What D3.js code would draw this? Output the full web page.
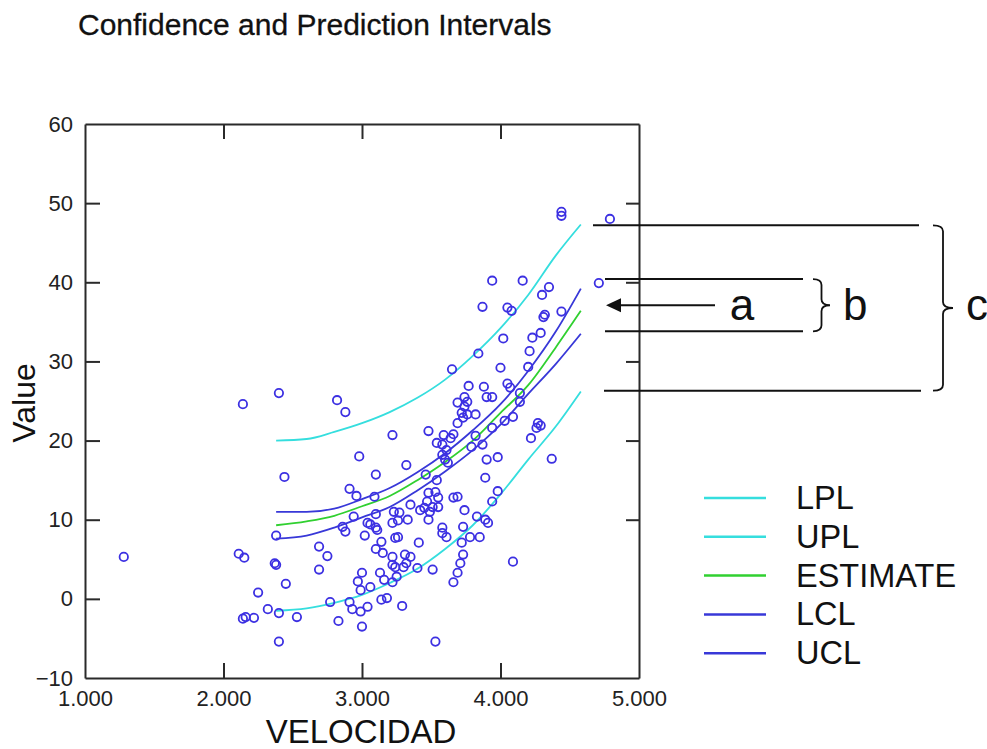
<!DOCTYPE html>
<html>
<head>
<meta charset="utf-8">
<script src="https://cdn.jsdelivr.net/npm/d3@7"></script>
<style>
  body { margin: 0; background: #fff; }
  svg { display: block; font-family: "Liberation Sans", Arial, sans-serif; }
</style>
</head>
<body>
<svg width="987" height="749"></svg>
<script>
// Observed data (VELOCIDAD, Value)
const velocidad = [1.28,2.11,2.15,2.14,2.14,2.16,2.22,2.25,2.32,2.40,2.40,2.37,2.38,2.38,2.44,2.45,2.40,2.53,2.69,2.75,2.69,2.77,2.82,2.88,2.83,2.86,2.88,2.91,2.96,2.94,2.98,2.91,2.93,2.99,3.00,3.00,2.97,2.99,3.06,3.02,3.04,3.04,3.10,3.09,3.10,3.11,3.14,3.10,3.15,3.13,3.16,3.14,3.18,3.22,3.23,3.22,3.24,3.22,3.22,3.25,3.22,3.26,3.26,3.33,3.35,3.29,3.31,3.35,3.32,3.30,3.24,3.40,3.41,3.51,3.53,3.32,3.27,3.42,3.48,3.53,3.55,3.47,3.51,3.45,3.55,3.49,3.48,3.46,3.54,3.48,3.59,3.66,3.64,3.54,3.58,3.61,3.58,3.60,3.62,3.66,3.69,3.74,3.58,3.61,3.58,3.73,3.72,3.78,3.85,3.73,3.71,3.69,3.66,3.83,3.89,3.91,3.65,4.00,4.20,3.77,3.88,4.05,4.07,3.90,3.94,3.69,3.74,3.76,3.74,4.14,4.14,3.72,3.76,3.73,3.82,3.69,4.03,4.09,4.27,4.29,4.26,3.94,4.22,3.82,3.87,3.79,3.90,3.98,4.37,3.89,3.98,3.94,4.09,4.44,4.44,4.79,4.71,3.94,4.16,4.35,4.30,3.87,4.05,4.08,4.44,4.32,4.31,4.29,4.23,4.02,4.21,3.84,3.06,3.10];
const value = [5.3,5.7,5.2,24.6,-2.5,-2.3,-2.4,0.8,-1.3,-1.8,-5.4,4.5,4.3,8.0,15.4,1.9,26.0,-2.3,6.6,5.4,3.7,-0.4,25.1,23.6,-2.8,9.1,8.5,13.9,13.0,10.4,18.0,-0.4,-1.3,-1.6,-3.5,3.3,2.2,1.1,1.5,8.0,9.6,-1.0,15.7,12.9,10.7,8.7,7.2,6.3,5.8,3.3,2.4,-0.1,0.1,20.7,11.0,9.6,7.7,5.3,4.3,2.8,2.1,7.8,9.9,10.0,11.9,-0.9,5.6,5.3,4.5,4.0,4.0,3.9,7.1,3.7,-5.4,16.9,10.9,11.2,13.4,13.5,12.8,12.3,11.6,11.5,11.6,11.0,10.0,15.7,15.0,21.2,20.7,20.8,20.3,19.7,19.5,18.8,18.2,17.6,17.2,12.8,12.9,11.2,8.3,7.8,9.0,9.1,7.1,7.8,7.8,5.6,4.5,3.3,2.1,10.4,10.0,9.6,29.0,29.2,29.3,26.9,26.8,27.2,26.7,25.5,25.5,24.8,25.5,24.9,24.3,26.0,24.9,23.5,23.3,22.9,23.3,22.2,22.5,23.0,22.2,21.9,21.6,21.6,20.3,20.6,19.5,19.2,17.6,17.9,17.7,15.3,13.6,12.3,4.7,48.9,48.4,48.0,39.9,40.2,40.2,39.4,38.4,36.9,36.8,36.4,36.3,35.9,35.6,33.6,33.0,32.9,31.3,31.0,9.4,9.0];

// Fitted curves, read at these x positions
const curveX   = [2.38, 2.6, 2.8, 3.0, 3.2, 3.4, 3.6, 3.8, 4.0, 4.2, 4.4, 4.58];
const lpl      = [-1.5, -1.2, -0.5, 0.5, 2.0, 3.8, 6.3, 9.3, 13.2, 17.6, 21.8, 26.2];
const upl      = [20.0, 20.2, 21.1, 22.2, 23.6, 25.4, 27.7, 30.7, 34.2, 38.4, 43.4, 47.3];
const estimate = [9.3, 9.8, 10.5, 11.7, 13.0, 15.0, 17.3, 20.0, 23.5, 27.0, 31.8, 36.4];
const lcl      = [7.6, 8.0, 9.0, 10.3, 11.6, 13.7, 16.1, 18.8, 22.0, 25.9, 29.7, 33.5];
const ucl      = [11.0, 11.0, 11.4, 12.6, 14.0, 16.0, 18.4, 21.3, 24.6, 28.8, 33.8, 39.2];

const seriesNames = ["LPL", "UPL", "ESTIMATE", "LCL", "UCL"];
const seriesValues = [lpl, upl, estimate, lcl, ucl];
const seriesColors = ["#35dede", "#35dede", "#30d030", "#3838d8", "#3838d8"];

const xTicks = [1, 2, 3, 4, 5];
const yTicks = [-10, 0, 10, 20, 30, 40, 50, 60];

// Annotation levels (in Value units) for the interval brackets
const cTop = 47.2, bTop = 40.4, arrowY = 37.1, bBottom = 33.8, cBottom = 26.3;

const svg = d3.select("svg");
const x = d3.scaleLinear().domain([1, 5]).range([85, 639]);
const y = d3.scaleLinear().domain([-10, 60]).range([678, 124]);
const axisColor = "#2a2a2a";

// Title
svg.append("text")
  .attr("x", 78).attr("y", 35)
  .attr("font-size", 30)
  .attr("fill", "#111")
  .attr("stroke", "#111").attr("stroke-width", 0.3)
  .text("Confidence and Prediction Intervals");

// Axes (ticks point inward, like the original frame)
function styleAxis(g) {
  g.selectAll("path, line").attr("stroke", axisColor).attr("stroke-width", 2);
  g.selectAll("text").attr("fill", "#222").attr("font-size", 22)
    .attr("font-family", "Liberation Sans, Arial, sans-serif");
}

svg.append("g")
  .attr("transform", "translate(0,678)")
  .call(d3.axisBottom(x).tickValues(xTicks).tickFormat(d3.format(".3f"))
    .tickSizeInner(-15).tickSizeOuter(0).tickPadding(12))
  .call(styleAxis)
  .call(g => g.selectAll(".tick line").filter(d => d === 1 || d === 5).remove());

svg.append("g")
  .attr("transform", "translate(0,124)")
  .call(d3.axisTop(x).tickValues([2, 3, 4]).tickFormat("")
    .tickSizeInner(-15).tickSizeOuter(0))
  .call(styleAxis);

svg.append("g")
  .attr("transform", "translate(85,0)")
  .call(d3.axisLeft(y).tickValues(yTicks).tickSizeInner(-15).tickSizeOuter(0).tickPadding(12))
  .call(styleAxis)
  .call(g => g.selectAll(".tick line").filter(d => d === -10 || d === 60).remove());

svg.append("g")
  .attr("transform", "translate(639,0)")
  .call(d3.axisRight(y).tickValues([10, 20, 30, 40, 50]).tickFormat("")
    .tickSizeInner(-13).tickSizeOuter(0))
  .call(styleAxis);

// Axis titles
svg.append("text")
  .attr("x", 361).attr("y", 743)
  .attr("text-anchor", "middle")
  .attr("font-size", 33)
  .attr("fill", "#111")
  .text("VELOCIDAD");

svg.append("text")
  .attr("transform", "translate(35,403) rotate(-90)")
  .attr("text-anchor", "middle")
  .attr("font-size", 32)
  .attr("fill", "#111")
  .text("Value");

// Curves
const line = d3.line()
  .x((d, i) => x(curveX[i]))
  .y(d => y(d))
  .curve(d3.curveMonotoneX);

svg.append("g")
  .selectAll("path")
  .data(seriesValues)
  .enter()
  .append("path")
  .attr("d", line)
  .attr("fill", "none")
  .attr("stroke", (d, i) => seriesColors[i])
  .attr("stroke-width", 1.8);

// Points
svg.append("g")
  .selectAll("circle")
  .data(velocidad)
  .enter()
  .append("circle")
  .attr("cx", d => x(d))
  .attr("cy", (d, i) => y(value[i]))
  .attr("r", 4.2)
  .attr("fill", "none")
  .attr("stroke", "#3c30e2")
  .attr("stroke-width", 1.8);

// Legend
const legend = svg.append("g").attr("transform", "translate(704,498)");
legend.selectAll("line")
  .data(seriesNames)
  .enter()
  .append("line")
  .attr("x1", 0).attr("x2", 62)
  .attr("y1", (d, i) => i * 38.8).attr("y2", (d, i) => i * 38.8)
  .attr("stroke", (d, i) => seriesColors[i])
  .attr("stroke-width", 2.5);
legend.selectAll("text")
  .data(seriesNames)
  .enter()
  .append("text")
  .attr("x", 92)
  .attr("y", (d, i) => i * 38.8 + 11)
  .attr("font-size", 32.5)
  .attr("fill", "#111")
  .text(d => d);

// Bracket annotations
const ann = svg.append("g").attr("stroke", "#111").attr("stroke-width", 2).attr("fill", "none");
ann.append("line").attr("x1", 593).attr("x2", 919).attr("y1", y(cTop)).attr("y2", y(cTop));
ann.append("line").attr("x1", 605).attr("x2", 803).attr("y1", y(bTop)).attr("y2", y(bTop));
ann.append("line").attr("x1", 605).attr("x2", 803).attr("y1", y(bBottom)).attr("y2", y(bBottom));
ann.append("line").attr("x1", 604).attr("x2", 921).attr("y1", y(cBottom)).attr("y2", y(cBottom));
ann.append("line").attr("x1", 715).attr("x2", 620).attr("y1", y(arrowY)).attr("y2", y(arrowY));
svg.append("path")
  .attr("d", `M606,${y(arrowY)} L621,${y(arrowY) - 7} L621,${y(arrowY) + 7} Z`)
  .attr("fill", "#111");

function brace(x0, x1, top, bottom) {
  const mid = (top + bottom) / 2, xm = (x0 + x1) / 2, r = 6;
  return `M${x0},${top} Q${xm},${top} ${xm},${top + r} L${xm},${mid - r} Q${xm},${mid} ${x1},${mid}` +
         ` Q${xm},${mid} ${xm},${mid + r} L${xm},${bottom - r} Q${xm},${bottom} ${x0},${bottom}`;
}
ann.append("path").attr("d", brace(813, 830, y(bTop), y(bBottom))).attr("stroke-width", 1.8);
ann.append("path").attr("d", brace(933, 953, y(cTop), y(cBottom))).attr("stroke-width", 1.8);

const letters = [["a", 742, "middle"], ["b", 843, "start"], ["c", 966, "start"]];
svg.append("g")
  .selectAll("text")
  .data(letters)
  .enter()
  .append("text")
  .attr("x", d => d[1])
  .attr("y", 320)
  .attr("text-anchor", d => d[2])
  .attr("font-size", 44)
  .attr("fill", "#111")
  .text(d => d[0]);
</script>
</body>
</html>
